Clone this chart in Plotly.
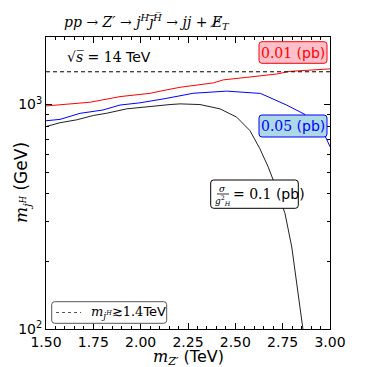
import plotly.graph_objects as go

# ---- data ----
red_x = [1.50, 1.732, 1.891, 2.049, 2.118, 2.208, 2.384, 2.436, 2.560, 2.718, 2.789, 3.00]
red_y = [986, 1024, 1085, 1122, 1154, 1194, 1249, 1288, 1322, 1368, 1406, 1442]

blue_x = [1.50, 1.574, 1.680, 1.801, 1.891, 1.996, 2.129, 2.278, 2.454, 2.633, 2.771, 2.868, 2.979, 3.00]
blue_y = [847, 859, 914, 946, 995, 1018, 1063, 1123, 1148, 1121, 995, 903, 710, 649]

black_x = [1.50, 1.574, 1.662, 1.750, 1.821, 1.926, 2.155, 2.208, 2.313, 2.419, 2.507, 2.577,
           2.630, 2.674, 2.701, 2.762, 2.798, 2.831, 2.857]
black_y = [798, 830, 855, 894, 915, 957, 1000, 1007, 1000, 957, 879, 766,
           635, 526, 459, 328, 232, 149, 100]

limit_x = [1.50, 3.00]
limit_y = [1400, 1400]

x_ticks = [1.50, 1.75, 2.00, 2.25, 2.50, 2.75, 3.00]
x_tick_text = ["1.50", "1.75", "2.00", "2.25", "2.50", "2.75", "3.00"]
y_ticks = [100, 1000]
y_tick_text = ["10<sup>2</sup>", "10<sup>3</sup>"]
y_minor = [200, 300, 400, 500, 600, 700, 800, 900, 2000]

SANS = "DejaVu Sans"
SERIF = "DejaVu Serif"

fig = go.Figure()
fig.add_trace(go.Scatter(x=red_x, y=red_y, mode="lines", line=dict(color="red", width=1), showlegend=False))
fig.add_trace(go.Scatter(x=blue_x, y=blue_y, mode="lines", line=dict(color="blue", width=1), showlegend=False))
fig.add_trace(go.Scatter(x=black_x, y=black_y, mode="lines", line=dict(color="#222222", width=1), showlegend=False))
fig.add_trace(go.Scatter(x=limit_x, y=limit_y, mode="lines", line=dict(color="black", width=1, dash="4px,3px"),
                         showlegend=False))


def rbox(x0, y0, x1, y1, fill, line, r=3):
    rx = r / 284.0
    ry = r / 292.0
    p = (f"M {x0+rx},{y0} L {x1-rx},{y0} Q {x1},{y0} {x1},{y0+ry} L {x1},{y1-ry} Q {x1},{y1} {x1-rx},{y1} "
         f"L {x0+rx},{y1} Q {x0},{y1} {x0},{y1-ry} L {x0},{y0+ry} Q {x0},{y0} {x0+rx},{y0} Z")
    return dict(type="path", xref="paper", yref="paper", path=p, fillcolor=fill,
                line=dict(color=line, width=1), layer="above")


def px(xp):
    return (xp - 46) / 284.0


def py(yp):
    return (329 - yp) / 292.0


shapes = [
    rbox(px(259), py(63.3), px(327), py(41.7), "#ffc0cb", "red"),
    rbox(px(259), py(137), px(327), py(115), "#add8e6", "blue"),
    rbox(px(210.7), py(208.3), px(298.3), py(180), "white", "black"),
    rbox(px(51.7), py(323.3), px(166.7), py(301.7), "white", "#555555"),
    dict(type="line", xref="paper", yref="paper", x0=px(56), x1=px(81), y0=py(312.5), y1=py(312.5),
         line=dict(color="#555555", width=1, dash="3px,3px"), layer="above"),
    dict(type="line", xref="paper", yref="paper", x0=px(217), x1=px(229), y0=py(194), y1=py(194),
         line=dict(color="black", width=0.8), layer="above"),
]

ann = []


def add_text(x, y, text, size, color="black", xanchor="center", yanchor="middle", family=SANS):
    ann.append(dict(x=px(x), y=py(y), xref="paper", yref="paper", text=text, showarrow=False,
                    xanchor=xanchor, yanchor=yanchor, font=dict(family=family, size=size, color=color)))


OV = "\u0305"
# title
add_text(147, 22,
         "<i>pp</i> → <i>Z′</i> → <i>j</i><sup><i>H</i></sup>"
         "<i>j" + OV + "</i><sup><i>H" + OV + "</i></sup>"
         " → <i>jj</i> + <i>E̸</i><sub><i>T</i></sub>", 14, family=SERIF)
# sqrt(s)
add_text(65, 57, "<span style='font-family:DejaVu Serif'>√<i>s" + OV + "</i> = 14</span> TeV",
         14, xanchor="left")
# box labels
add_text(293, 52.5, "<span style='font-family:DejaVu Serif'>0.01</span> (pb)", 14, color="red")
add_text(293, 126, "<span style='font-family:DejaVu Serif'>0.05</span> (pb)", 14, color="blue")
add_text(223, 188.5, "<i>σ</i>", 9, family=SERIF)
add_text(223, 200, "<i>g</i><sup>2</sup><sub><i>H</i></sub>", 9, family=SERIF)
add_text(231, 194, "<span style='font-family:DejaVu Serif'>= 0.1</span> (pb)", 14, xanchor="left")
# legend text
add_text(89, 312.5, "<span style='font-family:DejaVu Serif'><i>m</i><sub><i>j<sup>H</sup></i></sub>≳1.4</span>TeV",
         13, xanchor="left")
# axis titles
add_text(188, 357, "<span style='font-family:DejaVu Serif'><i>m</i><sub><i>Z′</i></sub></span> (TeV)", 16)
ann.append(dict(x=px(22), y=py(183), xref="paper", yref="paper", showarrow=False, textangle=-90,
                text="<span style='font-family:DejaVu Serif'><i>m</i><sub><i>j<sup>H</sup></i></sub></span> (GeV)",
                xanchor="center", yanchor="middle", font=dict(family=SANS, size=17, color="black")))

fig.update_layout(
    width=367, height=367,
    margin=dict(l=46, r=37, t=37, b=38),
    paper_bgcolor="white", plot_bgcolor="white",
    shapes=shapes, annotations=ann, showlegend=False,
    font=dict(family=SANS, size=14, color="black"),
)
fig.update_xaxes(range=[1.5, 3.0], tickvals=x_ticks, ticktext=x_tick_text, ticks="inside", ticklen=6,
                 tickcolor="black", showline=True, linecolor="black", linewidth=1, mirror="ticks",
                 showgrid=False, zeroline=False, tickfont=dict(size=14, family=SANS),
                 minor=dict(dtick=0.05, ticks="inside", ticklen=3, tickcolor="black", showgrid=False))
fig.update_yaxes(type="log", range=[2, 3.30103], tickvals=y_ticks, ticktext=y_tick_text, ticks="inside",
                 ticklen=6, tickcolor="black", showline=True, linecolor="black", linewidth=1, mirror="ticks",
                 showgrid=False, zeroline=False, tickfont=dict(size=14, family=SANS),
                 minor=dict(tickvals=y_minor, ticks="inside", ticklen=3, tickcolor="black", showgrid=False))

fig.write_html("out.html", config={"displayModeBar": False},
               post_script="document.body.style.margin='0px';")
